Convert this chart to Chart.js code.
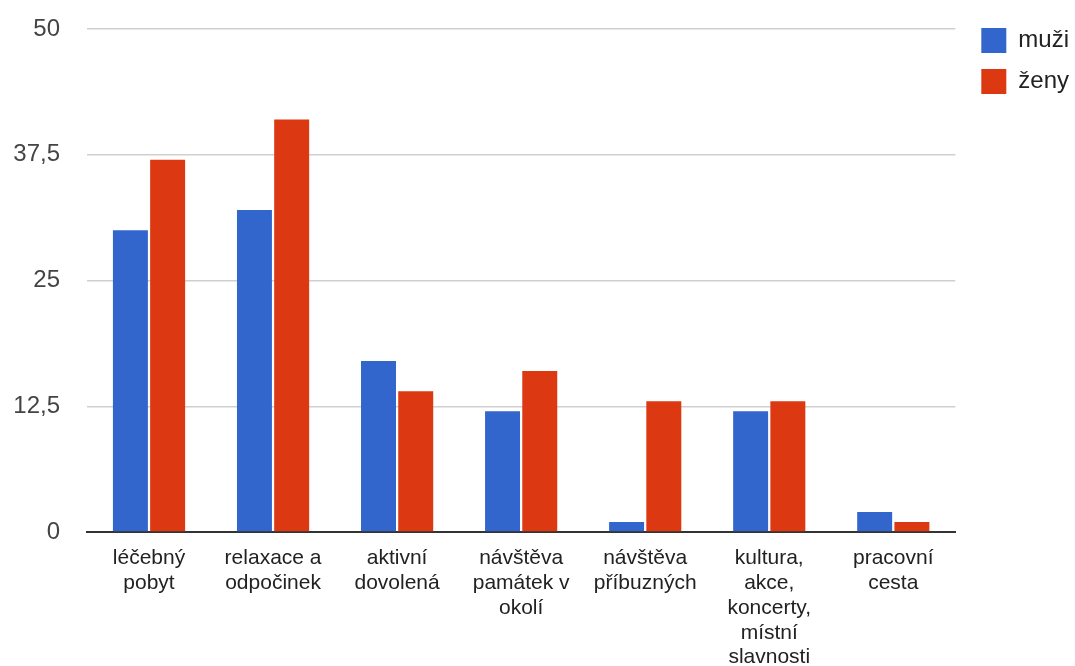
<!DOCTYPE html>
<html lang="cs">
<head>
<meta charset="utf-8">
<title>Typ pobytu – muži a ženy</title>
<script src="https://cdn.jsdelivr.net/npm/chart.js@4/dist/chart.umd.min.js"></script>
<style>
  html, body { margin: 0; padding: 0; background: #ffffff; }
  #wrap { width: 1075px; height: 666px; }
</style>
</head>
<body>
<div id="wrap"><canvas id="chart" width="1075" height="666"></canvas></div>
<script>
// Categories (multi-line axis labels)
const categories = [
  ['léčebný', 'pobyt'],
  ['relaxace a', 'odpočinek'],
  ['aktivní', 'dovolená'],
  ['návštěva', 'památek v', 'okolí'],
  ['návštěva', 'příbuzných'],
  ['kultura,', 'akce,', 'koncerty,', 'místní', 'slavnosti'],
  ['pracovní', 'cesta']
];

// Series values
const muzi = [30, 32, 17, 12, 1, 12, 2];
const zeny = [37, 41, 14, 16, 13, 13, 1];

// Series names
const seriesNames = ['muži', 'ženy'];

// Value axis ticks and their labels (decimal comma)
const yTicks = [0, 12.5, 25, 37.5, 50];
const yTickLabels = ['0', '12,5', '25', '37,5', '50'];

const FONT = '"Liberation Sans", Arial, "DejaVu Sans", sans-serif';

// Nudges the legend block into place next to the plot area
const legendOffset = {
  id: 'legendOffset',
  afterLayout(chart) {
    const lg = chart.legend;
    if (!lg) return;
    const dx = 10, dy = -17;
    lg.left += dx; lg.right += dx;
    lg.top += dy; lg.bottom += dy;
  }
};

new Chart(document.getElementById('chart'), {
  type: 'bar',
  data: {
    labels: categories,
    datasets: [
      {
        label: seriesNames[0],
        data: muzi,
        backgroundColor: '#3366cc',
        borderWidth: 0
      },
      {
        label: seriesNames[1],
        data: zeny,
        backgroundColor: '#dc3912',
        borderWidth: 0
      }
    ]
  },
  options: {
    responsive: false,
    animation: false,
    devicePixelRatio: 1,
    layout: { padding: { left: 12, right: 6, top: 29, bottom: 0 } },
    datasets: {
      bar: { categoryPercentage: 0.6, barPercentage: 0.94 }
    },
    plugins: {
      tooltip: { enabled: false },
      legend: {
        position: 'right',
        align: 'start',
        labels: {
          boxWidth: 25,
          boxHeight: 25,
          padding: 16,
          color: '#222222',
          font: { family: FONT, size: 24 }
        }
      }
    },
    scales: {
      x: {
        afterFit(scale) { scale.height = 134; },
        grid: { display: false, drawTicks: false },
        border: { display: true, color: '#333333', width: 2 },
        ticks: {
          color: '#222222',
          padding: 14,
          maxRotation: 0,
          autoSkip: false,
          font: { family: FONT, size: 21, lineHeight: 1.18 }
        }
      },
      y: {
        min: 0,
        max: 50,
        afterFit(scale) {
          scale.width = 75;
          scale.paddingTop = 12;
          scale.paddingBottom = 0;
        },
        afterBuildTicks(scale) {
          scale.ticks = yTicks.map(v => ({ value: v }));
        },
        grid: {
          drawTicks: false,
          lineWidth: 1.5,
          color: ctx => (ctx.tick && ctx.tick.value === 0) ? 'rgba(0,0,0,0)' : '#cfcfcf'
        },
        border: { display: false },
        ticks: {
          color: '#444444',
          padding: 27,
          font: { family: FONT, size: 24 },
          callback: (value, index) => yTickLabels[index]
        }
      }
    }
  },
  plugins: [legendOffset]
});
</script>
</body>
</html>
